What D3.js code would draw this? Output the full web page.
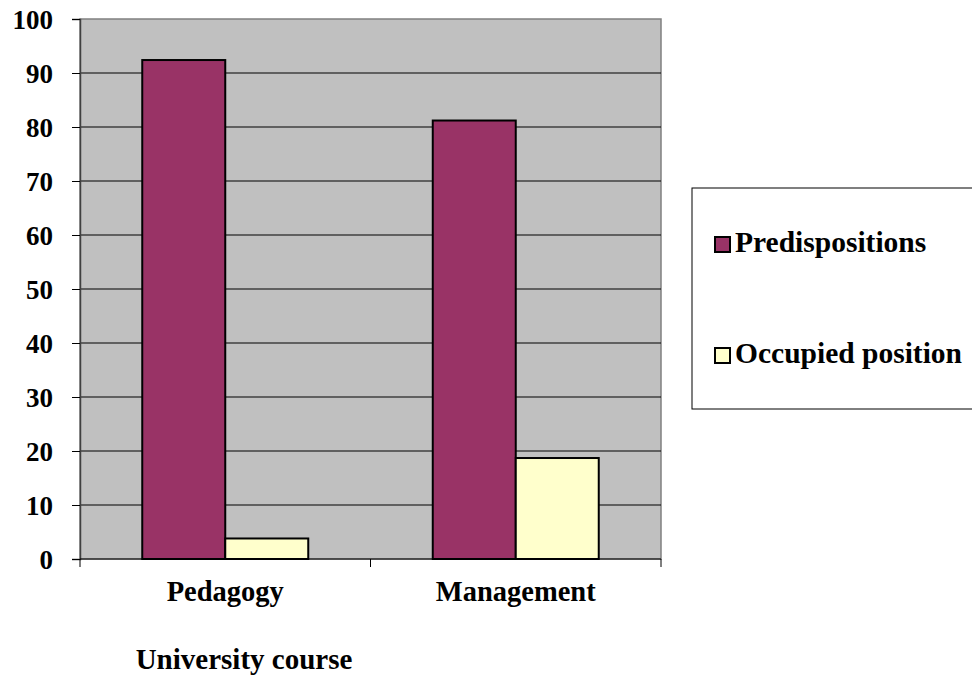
<!DOCTYPE html>
<html><head><meta charset="utf-8">
<script src="https://cdn.jsdelivr.net/npm/d3@7"></script>
<style>body{margin:0;background:#fff}svg{display:block}</style>
</head><body><svg id="c" width="972" height="679"></svg>
<script>
const categories = ["Pedagogy", "Management"];
const seriesNames = ["Predispositions", "Occupied position"];
const predispositions = [92.4, 81.2];
const occupied = [3.8, 18.7];
const yTicks = [0,10,20,30,40,50,60,70,80,90,100];
const colors = ["#993366", "#FFFFCC"];
const series = [predispositions, occupied];

const FONT = "'Liberation Serif', 'Times New Roman', Tinos, Times, serif";
const svg = d3.select("#c");
const L = 80, R = 661, T = 19, B = 559;
const x = d3.scaleBand().domain(categories).range([L, R]).paddingInner(0).paddingOuter(0);
const y = d3.scaleLinear().domain([0, 100]).range([B, T]);
const barW = 83;

function styleText(sel, size) {
  sel.attr("font-family", FONT).attr("font-weight", "bold").attr("font-size", size).attr("fill", "#000");
}

svg.append("rect").attr("x", L).attr("y", T).attr("width", R-L).attr("height", B-T)
  .attr("fill", "#C0C0C0").attr("stroke", "#808080").attr("stroke-width", 1.5);

// gridlines
svg.append("g").selectAll("line").data(yTicks.filter(d=>d>0 && d<100)).join("line")
  .attr("x1", L).attr("x2", R).attr("y1", d=>y(d)).attr("y2", d=>y(d))
  .attr("stroke", "#000").attr("stroke-width", 1);

// bars
categories.forEach((c, i) => {
  const cx = x(c) + x.bandwidth()/2;
  series.forEach((s, j) => {
    svg.append("rect")
      .attr("x", cx - barW + j*barW).attr("y", y(s[i]))
      .attr("width", barW).attr("height", B - y(s[i]))
      .attr("fill", colors[j]).attr("stroke", "#000").attr("stroke-width", 2);
  });
});

// y axis
const yAxis = d3.axisLeft(y).tickValues(yTicks).tickSize(8).tickPadding(19).tickFormat(d3.format("d"));
const gy = svg.append("g").attr("transform", `translate(${L},0)`).call(yAxis);
gy.attr("font-family", FONT);
gy.select(".domain").attr("stroke", "#404040").attr("stroke-width", 1.5);
gy.selectAll(".tick line").attr("stroke", "#000");
styleText(gy.selectAll(".tick text"), 27);
gy.selectAll(".tick text").attr("dy", "0.34em");

// x axis
const gx = svg.append("g").attr("transform", `translate(0,${B})`);
gx.append("line").attr("x1", L).attr("x2", R).attr("stroke", "#000").attr("stroke-width", 1);
const boundaries = [x.range()[0]].concat(categories.map(c => x(c) + x.bandwidth()));
gx.selectAll("line.tk").data(boundaries).join("line").attr("class","tk")
  .attr("x1", d=>d).attr("x2", d=>d).attr("y1", 0).attr("y2", 8).attr("stroke", "#000");
styleText(gx.selectAll("text").data(categories).join("text")
  .attr("x", d => x(d) + x.bandwidth()/2).attr("y", 42)
  .attr("text-anchor", "middle").text(d=>d), 28.5);

styleText(svg.append("text").attr("x", 244).attr("y", 669).attr("text-anchor", "middle")
  .text("University course"), 29);

// legend
svg.append("rect").attr("x", 692).attr("y", 188).attr("width", 290).attr("height", 221)
  .attr("fill", "#fff").attr("stroke", "#000").attr("stroke-width", 1);
const leg = svg.append("g").selectAll("g").data(seriesNames).join("g")
  .attr("transform", (d,i) => `translate(715,${244 + i*111})`);
leg.append("rect").attr("x", 0).attr("y", -7).attr("width", 15).attr("height", 15)
  .attr("fill", (d,i)=>colors[i]).attr("stroke", "#000").attr("stroke-width", 2);
styleText(leg.append("text").attr("x", 20).attr("y", 8).text(d=>d), 29.5);
</script></body></html>
